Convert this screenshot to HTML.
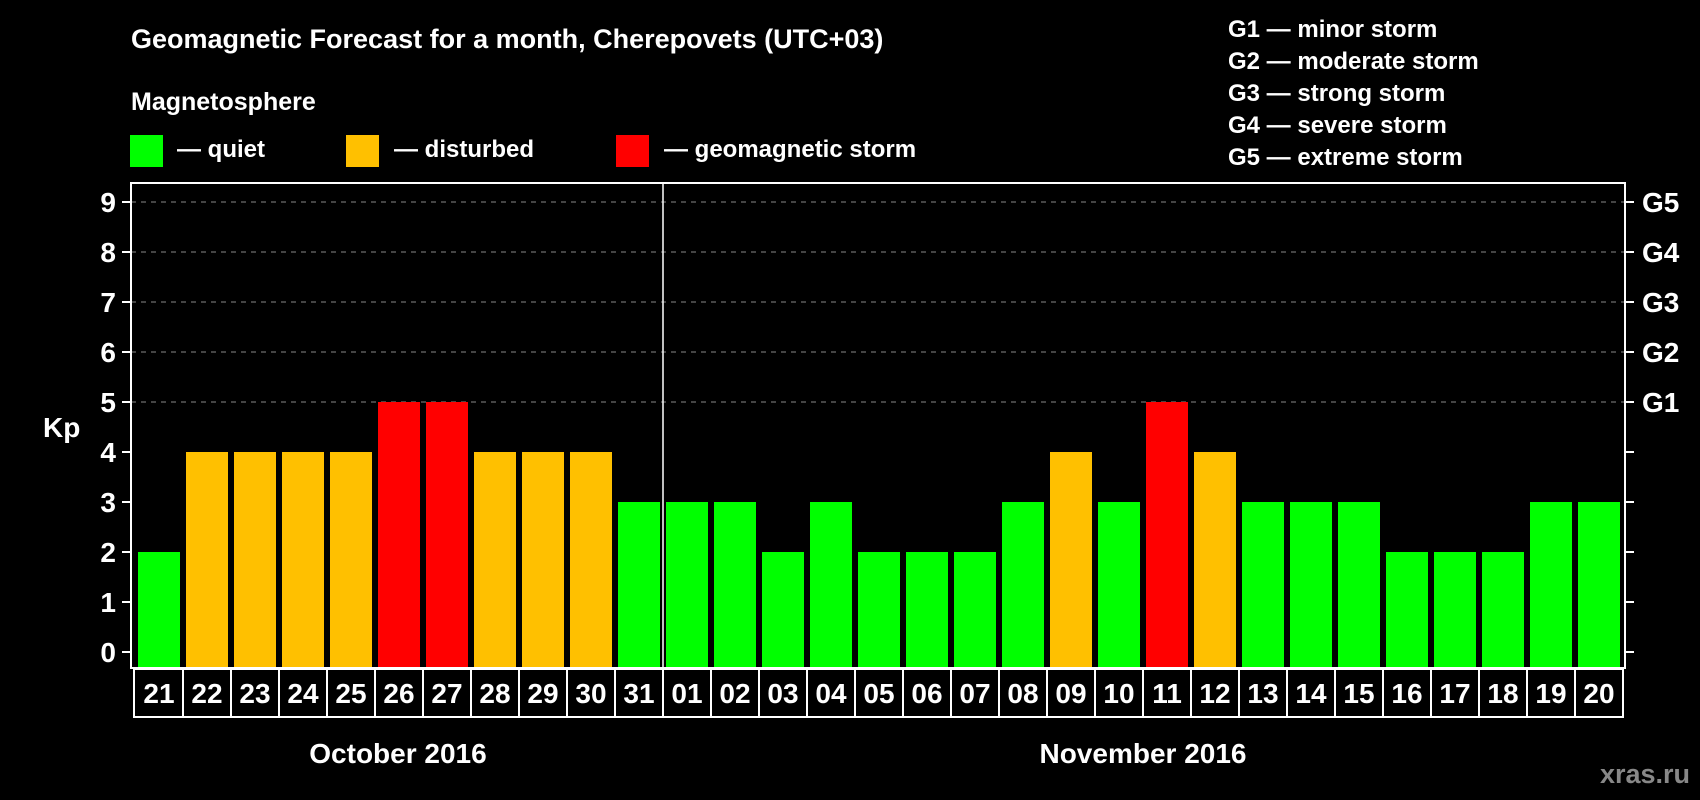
<!DOCTYPE html>
<html><head><meta charset="utf-8"><style>
html,body{margin:0;padding:0;background:#000;width:1700px;height:800px;overflow:hidden}
svg{display:block;font-family:"Liberation Sans",Arial,sans-serif;font-weight:bold}
</style></head><body>
<svg id="chart" width="1700" height="800" viewBox="0 0 1700 800" xmlns="http://www.w3.org/2000/svg">
<rect x="0" y="0" width="1700" height="800" fill="#000"/>
<text x="131" y="48" fill="#fff" font-size="27">Geomagnetic Forecast for a month, Cherepovets (UTC+03)</text>
<text x="131" y="110" fill="#fff" font-size="25">Magnetosphere</text>
<g><rect x="130" y="135" width="33" height="32" fill="#00ff00"/><text x="177" y="157" fill="#fff" font-size="24">— quiet</text></g>
<g><rect x="346" y="135" width="33" height="32" fill="#ffc000"/><text x="394" y="157" fill="#fff" font-size="24">— disturbed</text></g>
<g><rect x="616" y="135" width="33" height="32" fill="#ff0000"/><text x="664" y="157" fill="#fff" font-size="24">— geomagnetic storm</text></g>
<g fill="#fff" font-size="24">
<text x="1228" y="37">G1 — minor storm</text>
<text x="1228" y="69">G2 — moderate storm</text>
<text x="1228" y="101">G3 — strong storm</text>
<text x="1228" y="133">G4 — severe storm</text>
<text x="1228" y="165">G5 — extreme storm</text>
</g>
<text x="43" y="437" fill="#fff" font-size="28">Kp</text>
<g id="grid"></g><g id="bars"></g><g id="axes"></g><g id="dates"></g>
<text x="398" y="763" fill="#fff" font-size="28" text-anchor="middle">October 2016</text>
<text x="1143" y="763" fill="#fff" font-size="28" text-anchor="middle">November 2016</text>
<text x="1690" y="783" fill="#888" font-size="27" text-anchor="end">xras.ru</text>
</svg>
<script>
const days = ["21","22","23","24","25","26","27","28","29","30","31","01","02","03","04","05","06","07","08","09","10","11","12","13","14","15","16","17","18","19","20"];
const kp = [2,4,4,4,4,5,5,4,4,4,3,3,3,2,3,2,2,2,3,4,3,5,4,3,3,3,2,2,2,3,3];
const yTicks = [0,1,2,3,4,5,6,7,8,9];
const gLabels = ["G1","G2","G3","G4","G5"];
const NS="http://www.w3.org/2000/svg";
const L=131,R=1625,T=183,B=668,Y0=652,UNIT=50;
const y=v=>Y0-v*UNIT;
const bx=i=>138+i*48;
function mk(tag,at,parent,txt){const e=document.createElementNS(NS,tag);for(const k in at)e.setAttribute(k,at[k]);if(txt!==undefined)e.textContent=txt;parent.appendChild(e);return e;}
const grid=document.getElementById('grid'),bars=document.getElementById('bars'),axes=document.getElementById('axes'),dates=document.getElementById('dates');
yTicks.forEach(v=>{
  if(v>=5){const g=mk('line',{x1:L,x2:R,y1:y(v),y2:y(v),stroke:'#888','stroke-width':1,'stroke-dasharray':'5,5'},grid);
  
  }
  const t=mk('line',{x1:L-9,x2:L,y1:y(v),y2:y(v),stroke:'#fff','stroke-width':2},axes);
  
  
  const lb=mk('text',{x:116,y:y(v)+10,fill:'#fff','font-size':28,'text-anchor':'end'},axes,String(v));
  
  
  const rt=mk('line',{x1:R,x2:R+9,y1:y(v),y2:y(v),stroke:'#fff','stroke-width':2},axes);
  
  
});
gLabels.forEach((g,i)=>{
  const t=mk('text',{x:1642,y:y(i+5)+10,fill:'#fff','font-size':28},axes,g);
  
  
});
kp.forEach((v,i)=>{
  const c=v>=5?'#ff0000':(v>=4?'#ffc000':'#00ff00');
  const r=mk('rect',{x:bx(i),y:y(v),width:42,height:B-y(v),fill:c},bars);
  
  
});
const fr=mk('rect',{x:L,y:T,width:R-L,height:B-T,fill:'none',stroke:'#fff','stroke-width':2},axes);


const sep=mk('line',{x1:bx(11)-3,x2:bx(11)-3,y1:T,y2:B,stroke:'#fff','stroke-width':1.5},axes);


const db=mk('rect',{x:134,y:669,width:1623-134,height:48,fill:'none',stroke:'#fff','stroke-width':2},dates);


days.forEach((d,i)=>{
  if(i>0){const s=mk('line',{x1:bx(i)-3,x2:bx(i)-3,y1:669,y2:717,stroke:'#fff','stroke-width':2},dates);
  
  }
  const t=mk('text',{x:bx(i)+21,y:703,fill:'#fff','font-size':28,'text-anchor':'middle'},dates,d);
  
  
});
</script>
</body></html>
